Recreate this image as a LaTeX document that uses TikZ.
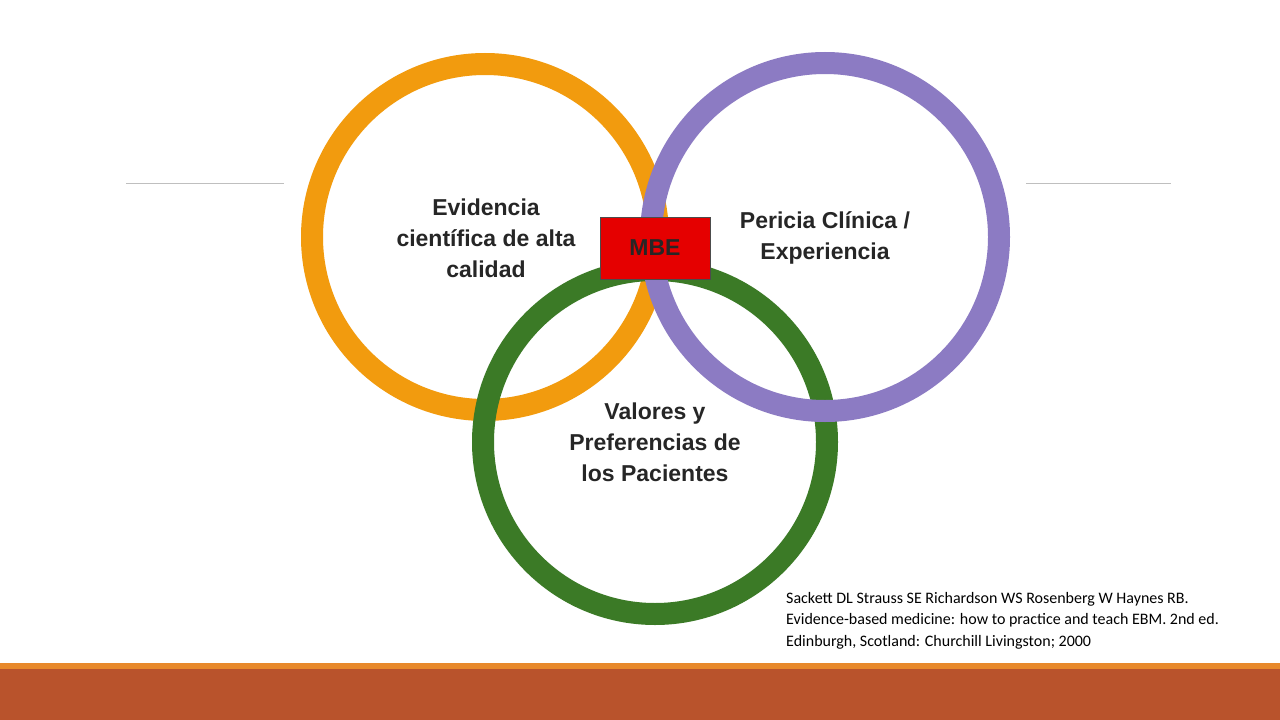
\documentclass[tikz,border=0pt]{standalone}
\usepackage{fontspec}
\setmainfont{Liberation Sans}
\newfontfamily\calfont{Carlito}
\definecolor{orng}{HTML}{F29B0E}
\definecolor{purp}{HTML}{8C7BC3}
\definecolor{grn}{HTML}{3B7A26}
\definecolor{brick}{HTML}{B9532C}
\definecolor{barline}{HTML}{E8892B}
\begin{document}
\begin{tikzpicture}[x=1pt,y=-1pt,
  ring/.style={line width=22pt},
  lbl/.style={font=\bfseries\fontsize{23}{31}\selectfont, align=center, text=black!85}]
\useasboundingbox (0,0) rectangle (1280,720);
\fill[white] (0,0) rectangle (1280,720);
\draw[gray!50, line width=1pt] (126,183) -- (284,183) (1026,183) -- (1171,183);
\draw[ring, orng] (485,237) circle (173);
\draw[ring, grn] (655,442) circle (172);
\draw[ring, purp] (825,237) circle (174);
\node[draw=black!70, fill=red!90!black, minimum width=110pt, minimum height=62pt, font=\bfseries\fontsize{23}{28}\selectfont, text=black!85] (mbe) at (655,248) {MBE};
\node[lbl] (ev) at (486,238) {Evidencia\\científica de alta\\calidad};
\node[lbl] (pc) at (825,238) {Pericia Clínica /\\Experiencia};
\node[lbl] (vp) at (655,442) {Valores y\\Preferencias de\\los Pacientes};
\node[anchor=north west, align=left, font=\calfont\fontsize{16}{21.5}\selectfont, inner sep=0pt] (ref) at (786,592) {Sackett DL Strauss SE Richardson WS Rosenberg W Haynes RB.\\Evidence-based medicine: how to practice and teach EBM. 2nd ed.\\Edinburgh, Scotland: Churchill Livingston; 2000};
\fill[barline] (0,663) rectangle (1280,669);
\fill[brick] (0,669) rectangle (1280,720);
\end{tikzpicture}
\end{document}
